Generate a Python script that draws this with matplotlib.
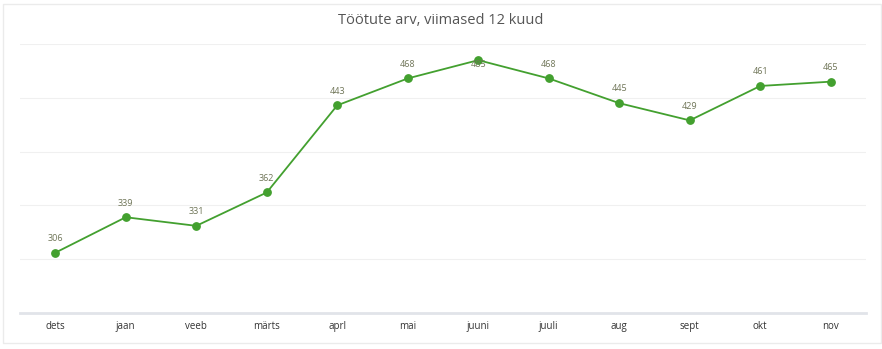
import matplotlib.pyplot as plt
from matplotlib.patches import Rectangle

months = ['dets', 'jaan', 'veeb', 'märts', 'aprl', 'mai', 'juuni', 'juuli', 'aug', 'sept', 'okt', 'nov']
unemployed = [306, 339, 331, 362, 443, 468, 485, 468, 445, 429, 461, 465]
y_ticks = [250, 300, 350, 400, 450, 500]

plt.rcParams['font.family'] = ['Open Sans', 'DejaVu Sans']

fig = plt.figure(figsize=(8.82, 3.49), dpi=100)
ax = fig.add_axes([20 / 882, 1 - 313 / 349, 846 / 882, 269 / 349])

# outer frame of the chart card
fig.patches.append(Rectangle((3 / 882, 1 - 343 / 349), 878 / 882, 339 / 349,
                             transform=fig.transFigure, fill=False,
                             edgecolor='#ebebeb', linewidth=1))

x = list(range(len(months)))
ax.plot(x, unemployed, color='#43a02f', linewidth=1.3, marker='o', markersize=5.3, zorder=3)

for xi, v in zip(x, unemployed):
    # top label would leave the plot, so it sits on the point instead
    dy = -3 if v > 480 else 7
    ax.annotate(str(v), (xi, v), xytext=(0, dy), textcoords='offset points',
                ha='center', va='bottom' if dy > 0 else 'center',
                fontsize=6.5, color='#6e7456')

ax.set_xlim(-0.5, len(months) - 0.5)
ax.set_ylim(y_ticks[0], y_ticks[-1])
ax.set_yticks(y_ticks)
ax.set_yticklabels([])
ax.set_xticks(x)
ax.set_xticklabels(months, fontsize=7, color='#333333')
ax.tick_params(axis='y', length=0)
ax.tick_params(axis='x', length=0, pad=6)
ax.grid(axis='y', color='#f0f0f0', linewidth=0.8)
ax.set_axisbelow(True)
for side in ['top', 'right', 'left']:
    ax.spines[side].set_visible(False)
ax.spines['bottom'].set_color('#e1e4e9')
ax.spines['bottom'].set_linewidth(2)

fig.text(0.5, 1 - 20 / 349, 'Töötute arv, viimased 12 kuud', ha='center', va='center',
         fontsize=10.5, color='#555555')

fig.savefig('out.png', dpi=100)
